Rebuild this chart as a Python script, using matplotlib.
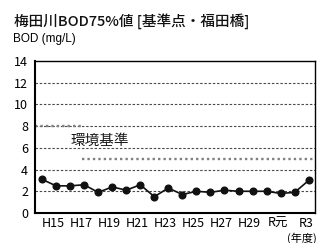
import numpy as np
import matplotlib
matplotlib.use("Agg")
import matplotlib.pyplot as plt

plt.rcParams['font.family'] = ['Noto Sans CJK JP', 'DejaVu Sans']

# 年度 H14 .. R3
years = ["H14", "H15", "H16", "H17", "H18", "H19", "H20", "H21", "H22", "H23",
         "H24", "H25", "H26", "H27", "H28", "H29", "H30", "R元", "R2", "R3"]
bod = [3.1, 2.5, 2.5, 2.6, 1.9, 2.4, 2.1, 2.6, 1.5, 2.3,
       1.7, 2.0, 1.9, 2.1, 2.0, 2.0, 2.0, 1.8, 1.9, 3.0]
tick_labels = ["H15", "H17", "H19", "H21", "H23", "H25", "H27", "H29", "R元", "R3"]

# 環境基準 (mg/L): 8 until H16, 5 from H17
std_values = [8, 5]
std_from = [-0.5, 2.88]
std_to = [2.88, 19.45]

fig = plt.figure(figsize=(3.19, 2.43), dpi=100)
ax = fig.add_axes([0.1097, 0.1235, 0.8778, 0.6255])

x = np.arange(len(years))

ax.set_ylim(0, 14)
ax.set_xlim(-0.5, 19.45)
ax.set_yticks(range(0, 15, 2))
for yv in range(2, 14, 2):
    ax.axhline(yv, color="#4a4a4a", lw=0.8, ls=(0, (2.2, 1.6)), zorder=1)

for v, a, b in zip(std_values, std_from, std_to):
    ax.plot([a, b], [v, v], color="#808080", lw=1.7, ls=(0, (1, 1.3)), zorder=2)

ax.plot(x, bod, color="#111111", lw=1.2, marker="o", ms=4.8, zorder=3)

ax.text(4.1, 6.65, "環境基準", fontsize=10.5, color="#1a1a1a",
        ha="center", va="center")

ax.set_xticks([years.index(t) - 0.2 for t in tick_labels])
ax.set_xticklabels(tick_labels)
ax.tick_params(axis="both", length=0, labelsize=9, colors="#000000")
ax.tick_params(axis="y", pad=5)
ax.tick_params(axis="x", pad=3)

for s in ["left", "bottom"]:
    ax.spines[s].set_linewidth(1.5)
for s in ["top", "right"]:
    ax.spines[s].set_linewidth(1.0)

fig.text(14 / 319, 1 - 21 / 243, "梅田川BOD75%値 [基準点・福田橋]", fontsize=10.5,
         ha="left", va="center", color="#111111", fontweight="medium")
fig.text(13 / 319, 1 - 39 / 243, "BOD (mg/L)", fontsize=8.5,
         family=["Liberation Sans", "Noto Sans CJK JP"],
         ha="left", va="center", color="#000000")
fig.text(317 / 319, 1 - 238 / 243, "(年度)", fontsize=8,
         ha="right", va="center", color="#000000")

fig.savefig("out.png", dpi=100)
